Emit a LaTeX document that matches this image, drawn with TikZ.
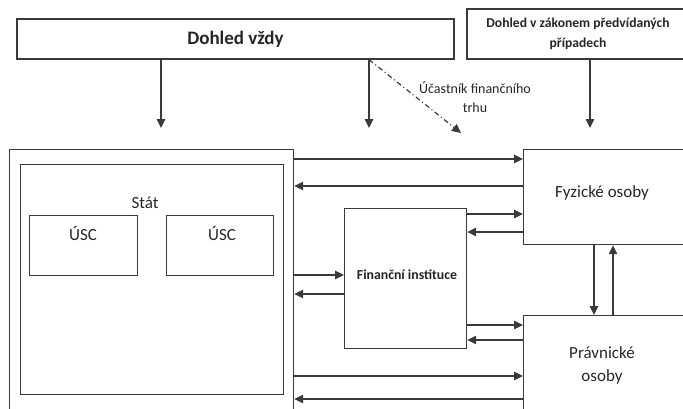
\documentclass[tikz,border=0pt]{standalone}
\usepackage{fontspec}
\setmainfont{Carlito}
\usetikzlibrary{arrows.meta,positioning}
\definecolor{seda}{HTML}{3A3A3A}
\definecolor{text}{HTML}{262626}

\begin{document}
\begin{tikzpicture}[x=1pt,y=-1pt,
    ramec/.style={draw=seda,line width=1.2pt,minimum width=#1},
    sipka/.style={draw=seda,line width=1.2pt,-{Triangle[length=9pt,width=8.5pt]}},
    popis/.style={text=text,inner sep=0pt}]
  \useasboundingbox (0,0) rectangle (683,408);
  \clip (0,0) rectangle (683,408);
  % dohled
  \node[ramec=437pt,minimum height=40pt] (vzdy) at (235.5,39) {};
  \node[popis,font=\bfseries\fontsize{19}{20}\selectfont] at (vzdy) {Dohled vždy};
  \node[ramec=222pt,minimum height=50pt] (zakon) at (578,34) {};
  \node[popis,font=\bfseries\fontsize{13.6}{20}\selectfont,align=center] at (zakon) {Dohled v zákonem předvídaných\\případech};
  % stat
  \node[ramec=284pt,minimum height=280pt,anchor=north west] (stat) at (9,149) {};
  \node[ramec=263pt,minimum height=230pt,anchor=north west] (vnitrni) at (20,164) {};
  \node[popis,font=\fontsize{17}{20}\selectfont] (statnazev) at (145,203) {Stát};
  \node[ramec=108pt,minimum height=60pt,anchor=north west] (usc1) at (29,215) {};
  \node[ramec=107pt,minimum height=60pt,anchor=north west] (usc2) at (166,215) {};
  \node[popis,font=\fontsize{17}{20}\selectfont] at (83,233) {ÚSC};
  \node[popis,font=\fontsize{17}{20}\selectfont] at (222,233) {ÚSC};
  % instituce a osoby
  \node[ramec=122pt,minimum height=140pt,anchor=north west] (fin) at (344,208) {};
  \node[popis,font=\bfseries\fontsize{13.8}{20}\selectfont] at (407,275) {Finanční instituce};
  \node[ramec=180pt,minimum height=95pt,anchor=north west] (fyz) at (523,149) {};
  \node[popis,font=\fontsize{17}{20}\selectfont] at (602,193) {Fyzické osoby};
  \node[ramec=180pt,minimum height=120pt,anchor=north west] (prav) at (523,315) {};
  \node[popis,font=\fontsize{17}{23}\selectfont,align=center] at (602,365) {Právnické\\osoby};
  % sipky shora
  \draw[sipka] (vzdy.south -| 161,0) -- (161,128);
  \draw[sipka] (vzdy.south -| 369,0) -- (369,128);
  \draw[sipka] (zakon.south -| 590,0) -- (590,128);
  \draw[sipka,dash pattern=on 5pt off 3pt on 1pt off 3pt] (vzdy.south -| 369,0) -- (461,133);
  \node[popis,font=\fontsize{14}{19}\selectfont,align=center] at (475,97) {Účastník finančního\\trhu};
  % vodorovne sipky
  \foreach \y/\a/\b in {159/stat/fyz,214/fin/fyz,275/stat/fin,325/fin/prav,376/stat/prav}{
    \draw[sipka] (\a.east |- 0,\y) -- (\b.west |- 0,\y);
  }
  \foreach \y/\a/\b in {186/fyz/stat,232/fyz/fin,294/fin/stat,340/prav/fin,399/prav/stat}{
    \draw[sipka] (\a.west |- 0,\y) -- (\b.east |- 0,\y);
  }
  % svisle sipky
  \draw[sipka] (fyz.south -| 594,0) -- (prav.north -| 594,0);
  \draw[sipka] (prav.north -| 613,0) -- (fyz.south -| 613,0);
\end{tikzpicture}
\end{document}
